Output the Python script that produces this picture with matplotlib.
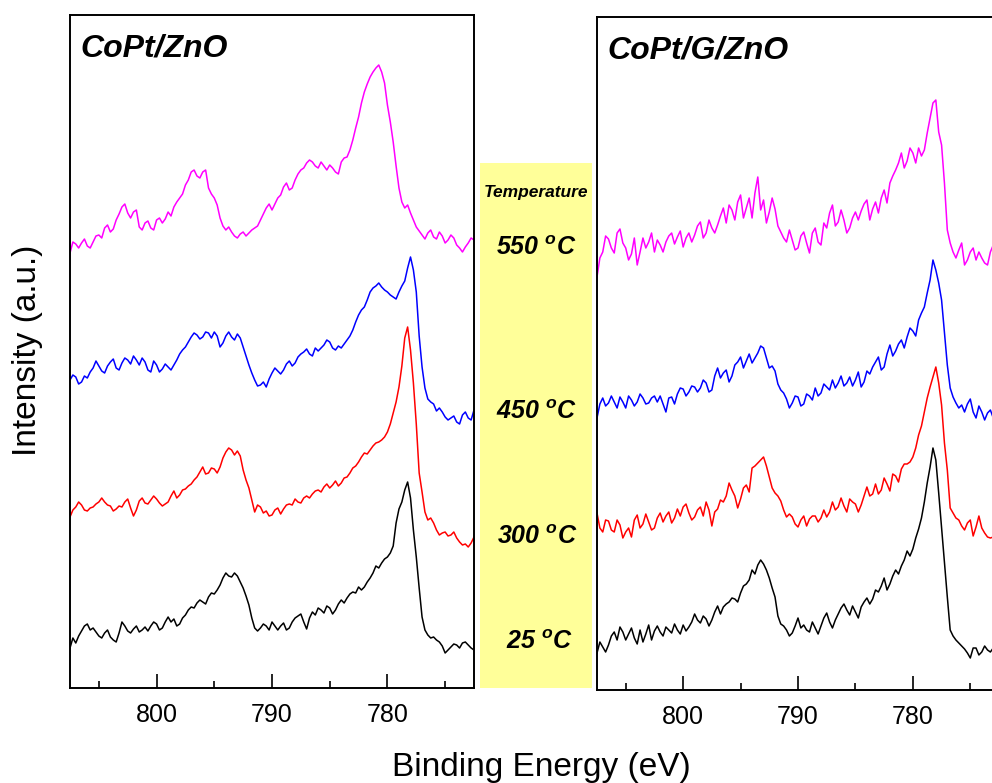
import numpy as np
import matplotlib
matplotlib.use("Agg")
import matplotlib.pyplot as plt
from matplotlib.patches import Rectangle

plt.rcParams['font.family'] = ['Liberation Sans', 'DejaVu Sans']
plt.rcParams['mathtext.fontset'] = 'custom'
plt.rcParams['mathtext.rm'] = 'Liberation Sans:bold:italic'
plt.rcParams['mathtext.it'] = 'Liberation Sans:bold:italic'
plt.rcParams['mathtext.bf'] = 'Liberation Sans:bold:italic'

# Binding energy sampling (eV): 807.5 -> 772.5 in 0.25 eV steps
energy = np.arange(807.5, 772.49, -0.25)

# Each spectrum: values at the whole/half-eV points (71) and the in-between
# quarter points (70) (offset intensity, a.u.)

# ---- CoPt/ZnO (left panel) ----
znO_550 = [435, 444, 445, 442, 446, 453, 460, 456, 468, 481, 475, 476, 461, 465, 460, 468, 465, 476,
           481, 490, 503, 516, 512, 516, 500, 490, 470, 458, 456, 450, 456, 455, 460, 468, 480, 478,
           490, 501, 498, 508, 518, 525, 526, 520, 522, 523, 516, 526, 531, 548, 571, 596, 611, 620,
           616, 583, 546, 500, 480, 475, 461, 453, 455, 451, 456, 445, 453, 443, 436, 445, 448]
znO_550_q = [446, 440, 449, 440, 452, 450, 463, 459, 474, 484, 470, 478, 458, 467, 458, 470, 469, 472,
             486, 494, 508, 518, 510, 518, 494, 483, 462, 461, 452, 454, 452, 458, 462, 474, 484, 484,
             493, 505, 500, 514, 520, 528, 522, 526, 518, 520, 514, 530, 538, 560, 585, 604, 616, 623,
             605, 566, 522, 486, 483, 468, 457, 449, 458, 449, 452, 448, 450, 440, 441, 450]
znO_450 = [308, 311, 306, 310, 320, 322, 315, 326, 320, 325, 328, 332, 323, 326, 316, 323, 319, 321,
           323, 334, 341, 351, 353, 351, 355, 356, 341, 352, 351, 354, 341, 323, 308, 303, 301, 315,
           317, 318, 327, 325, 334, 339, 332, 337, 343, 346, 338, 340, 348, 358, 373, 381, 396, 402,
           401, 396, 391, 396, 407, 431, 396, 321, 289, 284, 280, 271, 270, 266, 273, 270, 278]
znO_450_q = [313, 304, 312, 316, 327, 317, 322, 329, 318, 330, 324, 328, 330, 318, 327, 316, 324, 318,
             328, 338, 346, 355, 349, 356, 350, 352, 345, 356, 348, 350, 332, 315, 302, 306, 309, 320,
             314, 324, 322, 331, 336, 334, 340, 340, 348, 340, 342, 344, 352, 366, 378, 388, 400, 405,
             398, 393, 389, 402, 420, 418, 352, 300, 286, 277, 276, 268, 272, 264, 276, 268]
znO_300 = [171, 181, 183, 177, 181, 186, 186, 182, 179, 181, 189, 172, 187, 185, 188, 189, 182, 186,
           197, 193, 199, 204, 211, 221, 215, 219, 221, 236, 238, 237, 218, 200, 176, 181, 177, 173,
           180, 179, 184, 189, 185, 192, 194, 198, 201, 200, 207, 205, 211, 220, 226, 235, 238, 245,
           248, 256, 275, 301, 350, 338, 264, 196, 168, 165, 153, 156, 153, 150, 143, 141, 151]
znO_300_q = [178, 186, 178, 180, 184, 190, 183, 177, 182, 186, 180, 178, 190, 184, 192, 185, 184, 192,
             190, 198, 202, 208, 216, 214, 220, 215, 230, 240, 233, 232, 208, 188, 183, 175, 172, 178,
             174, 183, 183, 186, 190, 190, 197, 196, 204, 203, 202, 210, 215, 222, 231, 234, 242, 246,
             251, 264, 286, 322, 361, 305, 215, 176, 170, 158, 155, 152, 156, 146, 144, 145]
znO_25 = [40, 45, 57, 64, 60, 52, 55, 51, 46, 66, 57, 59, 56, 61, 62, 64, 60, 71,
          69, 64, 73, 81, 85, 86, 91, 94, 103, 115, 111, 112, 100, 83, 60, 60, 62, 66,
          58, 65, 60, 70, 74, 59, 76, 80, 75, 80, 78, 88, 90, 96, 101, 101, 110, 122,
          125, 131, 142, 179, 198, 190, 131, 71, 53, 51, 46, 35, 41, 43, 45, 43, 38]
znO_25_q = [50, 52, 62, 58, 56, 50, 58, 48, 55, 62, 55, 62, 58, 57, 66, 58, 66, 66,
            62, 70, 78, 80, 88, 84, 95, 98, 110, 112, 115, 106, 92, 70, 57, 64, 58, 62,
            62, 58, 66, 72, 66, 70, 73, 78, 82, 74, 84, 85, 94, 95, 98, 106, 115, 120,
            129, 135, 165, 186, 206, 158, 100, 58, 50, 48, 42, 38, 44, 40, 46, 40]

# ---- CoPt/G/ZnO (right panel) ----
g_550 = [411, 436, 449, 435, 459, 440, 434, 423, 450, 446, 436, 443, 446, 455, 451, 441, 455, 453,
         466, 455, 460, 463, 480, 483, 468, 493, 480, 470, 511, 488, 476, 479, 456, 446, 448, 440,
         456, 435, 460, 443, 460, 483, 466, 468, 460, 476, 477, 488, 479, 475, 498, 505, 518, 535,
         527, 535, 540, 538, 570, 588, 543, 458, 436, 438, 423, 436, 428, 430, 423, 443, 436]
g_550_q = [430, 452, 440, 455, 445, 428, 450, 436, 440, 455, 448, 436, 452, 444, 457, 450, 446, 462,
           450, 468, 455, 472, 465, 478, 486, 470, 490, 495, 478, 465, 490, 462, 450, 458, 438, 452,
           445, 455, 446, 465, 475, 462, 478, 455, 470, 468, 484, 468, 486, 490, 485, 512, 525, 520,
           540, 525, 532, 555, 585, 556, 505, 445, 430, 445, 428, 440, 436, 425, 436, 440]
g_450 = [270, 290, 285, 286, 291, 280, 288, 286, 290, 285, 292, 292, 276, 291, 294, 299, 296, 301,
         300, 305, 298, 320, 315, 306, 323, 331, 327, 325, 335, 340, 320, 317, 298, 289, 285, 291,
         284, 292, 300, 295, 301, 308, 305, 302, 311, 308, 301, 317, 321, 331, 321, 343, 337, 348,
         351, 357, 368, 381, 408, 418, 388, 323, 291, 280, 276, 289, 270, 276, 275, 270, 273]
g_450_q = [284, 282, 292, 280, 286, 292, 282, 294, 284, 290, 286, 284, 290, 284, 300, 292, 302, 296,
           308, 296, 312, 310, 318, 312, 326, 320, 334, 330, 342, 330, 322, 304, 295, 280, 292, 282,
           294, 288, 292, 304, 298, 300, 312, 305, 302, 316, 306, 314, 326, 318, 334, 332, 344, 340,
           360, 352, 375, 395, 428, 405, 355, 300, 285, 283, 284, 276, 282, 268, 278, 272]
g_300 = [175, 156, 167, 156, 163, 156, 151, 173, 164, 166, 160, 175, 172, 165, 179, 181, 175, 171,
         181, 186, 162, 179, 186, 205, 192, 189, 203, 220, 225, 231, 211, 195, 187, 171, 171, 161,
         172, 169, 172, 170, 171, 186, 181, 182, 189, 184, 183, 201, 194, 194, 210, 197, 212, 219,
         224, 231, 253, 276, 301, 321, 283, 218, 175, 168, 158, 168, 161, 160, 151, 151, 153]
g_300_q = [160, 168, 158, 168, 150, 160, 168, 160, 174, 158, 170, 166, 176, 170, 172, 184, 168, 178,
           172, 178, 176, 188, 192, 198, 180, 200, 196, 222, 228, 222, 200, 192, 178, 174, 164, 168,
           162, 172, 166, 178, 176, 178, 190, 176, 186, 176, 192, 192, 204, 198, 204, 214, 206, 224,
           226, 240, 262, 290, 311, 305, 245, 180, 170, 162, 165, 152, 172, 155, 150, 155]
g_25 = [35, 41, 43, 56, 61, 48, 60, 44, 46, 63, 57, 56, 61, 55, 58, 63, 61, 74,
        65, 69, 68, 82, 81, 86, 89, 95, 104, 118, 123, 124, 110, 91, 64, 58, 55, 70,
        63, 56, 60, 62, 75, 60, 74, 84, 73, 76, 81, 90, 89, 96, 110, 104, 118, 122,
        137, 139, 159, 186, 221, 228, 160, 91, 52, 45, 39, 30, 40, 36, 38, 40, 38]
g_25_q = [46, 36, 52, 48, 56, 54, 50, 58, 54, 48, 62, 52, 58, 64, 54, 57, 66, 68,
          72, 62, 76, 74, 84, 90, 86, 102, 108, 114, 128, 118, 100, 72, 62, 52, 62, 60,
          58, 66, 54, 70, 66, 68, 80, 78, 82, 70, 86, 84, 98, 102, 98, 112, 114, 128,
          132, 150, 170, 205, 240, 195, 125, 58, 48, 42, 35, 40, 33, 42, 36, 39]

panel_titles = ['CoPt/ZnO', 'CoPt/G/ZnO']
temps = ['550', '450', '300', '25']
colors = ['#FF00FF', '#0000FF', '#FF0000', '#000000']


def interleave(main, quarter):
    out = np.empty(len(main) + len(quarter))
    out[0::2] = main
    out[1::2] = quarter
    return out


W, H = 992, 783
fig = plt.figure(figsize=(W / 100, H / 100), dpi=100)


def frac_rect(x0, y0, x1, y1):
    return [x0 / W, (H - y1) / H, (x1 - x0) / W, (y1 - y0) / H]


axL = fig.add_axes(frac_rect(70, 15, 474, 688))
axR = fig.add_axes(frac_rect(597, 17, 999, 690))

series = [
    [(znO_550, znO_550_q), (znO_450, znO_450_q), (znO_300, znO_300_q), (znO_25, znO_25_q)],
    [(g_550, g_550_q), (g_450, g_450_q), (g_300, g_300_q), (g_25, g_25_q)],
]
ylims = [(0, 673), (-2, 671)]

for ax, title, data, yl in zip([axL, axR], panel_titles, series, ylims):
    for (m, q), c in zip(data, colors):
        ax.plot(energy, interleave(m, q), color=c, lw=1.1)
    ax.set_xlim(807.5, 772.5)
    ax.set_ylim(*yl)
    ax.set_xticks([800, 790, 780])
    ax.set_xticks([805, 795, 785, 775], minor=True)
    ax.set_yticks([])
    ax.tick_params(axis='x', which='major', direction='in', length=10, width=1.2,
                   labelsize=18, pad=11, top=False)
    ax.tick_params(axis='x', which='minor', direction='in', length=5, width=1.2, top=False)
    for sp in ax.spines.values():
        sp.set_linewidth(1.4)
    ax.text(0.025, 0.9376, title, transform=ax.transAxes, fontsize=23,
            fontweight='bold', fontstyle='italic', va='baseline', ha='left')

# yellow temperature band
fig.patches.append(Rectangle((480 / W, (H - 688) / H), 112 / W, (688 - 163) / H,
                             transform=fig.transFigure, facecolor='#FFFF99',
                             edgecolor='none', zorder=0))

fig.text(536 / W, (H - 197) / H, 'Temperature', fontsize=12.5, fontweight='bold',
         fontstyle='italic', ha='center', va='baseline')
temp_baselines = [255, 419, 544, 649]
temp_x = [536, 537, 537, 540]
for t, yb, xc in zip(temps, temp_baselines, temp_x):
    fig.text(xc / W, (H - yb) / H, t + r' $^{o}$C', fontsize=18, fontweight='bold',
             fontstyle='italic', ha='center', va='baseline')

fig.text(541 / W, (H - 776) / H, 'Binding Energy (eV)', fontsize=24, ha='center',
         va='baseline')
fig.text(28 / W, (H - 350) / H, 'Intensity (a.u.)', fontsize=24, rotation=90,
         ha='center', va='center')

fig.savefig('out.png', dpi=100)
